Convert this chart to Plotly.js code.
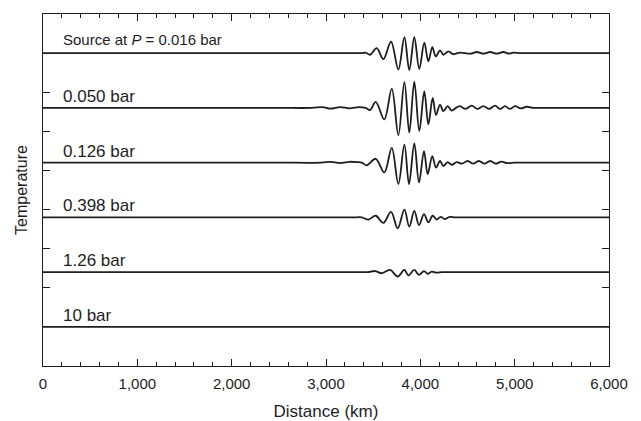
<!DOCTYPE html>
<html>
<head>
<meta charset="utf-8">
<script src="https://cdn.plot.ly/plotly-3.0.1.min.js"></script>
<style>html,body{margin:0;padding:0;background:#fff;}#chart{width:641px;height:421px;}</style>
</head>
<body>
<div id="chart"></div>
<script>
// ---- Data ----
// Curve labels (top to bottom)
const pressureLabels = ['Source at <i>P</i> = 0.016 bar', '0.050 bar', '0.126 bar', '0.398 bar', '1.26 bar', '10 bar'];
// Vertical offset of each trace's zero line (trace spacing = 1 unit)
const baselineOffsets = [5, 4, 3, 2, 1, 0];

// Distance (km) and relative temperature perturbation of each trace
const x016 = [0, 500, 1000, 1500, 2000, 2500, 3000, 3200, 3300, 3380, 3420, 3467, 3537, 3608, 3689, 3767, 3831, 3883, 3936, 3989, 4042, 4085, 4127, 4163, 4209, 4244, 4297, 4350, 4420, 4530, 4598, 4670, 4739, 4810, 4880, 4940, 4990, 5060, 5150, 5500, 6000];
const t016 = [0, 0, 0, 0, 0, 0, 0, 0, 0, 0, 0.01, -0.03, 0.09, -0.11, 0.21, -0.30, 0.29, -0.31, 0.29, -0.29, 0.19, -0.15, 0.11, -0.06, 0.05, -0.03, 0.03, -0.02, 0.01, -0.01, 0.02, -0.01, 0.02, -0.01, 0.02, -0.01, 0.01, 0, 0, 0, 0];

const x050 = [0, 500, 1000, 1500, 2000, 2500, 2850, 2960, 3050, 3150, 3250, 3350, 3420, 3467, 3527, 3618, 3697, 3767, 3831, 3883, 3936, 3989, 4042, 4085, 4131, 4166, 4209, 4244, 4290, 4332, 4386, 4420, 4480, 4545, 4605, 4668, 4730, 4792, 4845, 4898, 4950, 5004, 5065, 5128, 5200, 5300, 5600, 6000];
const t050 = [0, 0, 0, 0, 0, 0, 0, 0.015, -0.015, 0.015, -0.01, 0.015, 0.0, -0.04, 0.11, -0.21, 0.35, -0.50, 0.47, -0.45, 0.48, -0.42, 0.30, -0.30, 0.18, -0.13, 0.06, -0.06, 0.03, -0.05, 0.01, 0.03, -0.02, 0.04, -0.02, 0.03, -0.02, 0.04, -0.02, 0.03, -0.02, 0.03, -0.01, 0.02, 0, 0, 0, 0];

const x126 = [0, 500, 1000, 1500, 2000, 2500, 2950, 3050, 3150, 3250, 3330, 3380, 3431, 3527, 3618, 3697, 3767, 3831, 3880, 3936, 3986, 4039, 4078, 4127, 4166, 4209, 4244, 4290, 4332, 4386, 4440, 4500, 4560, 4620, 4680, 4740, 4800, 4860, 4920, 5000, 5100, 5500, 6000];
const t126 = [0, 0, 0, 0, 0, 0, 0, 0.015, -0.01, 0.015, 0.01, 0, -0.05, 0.07, -0.18, 0.27, -0.39, 0.33, -0.39, 0.35, -0.36, 0.21, -0.21, 0.12, -0.09, 0.03, -0.06, 0.01, -0.04, 0.01, -0.02, 0.03, -0.02, 0.03, -0.02, 0.03, -0.02, 0.02, -0.01, 0, 0, 0, 0];

const x398 = [0, 500, 1000, 1500, 2000, 2500, 3000, 3200, 3300, 3380, 3449, 3527, 3608, 3689, 3760, 3831, 3883, 3936, 3986, 4039, 4085, 4131, 4173, 4216, 4258, 4311, 4370, 4450, 4600, 5000, 5500, 6000];
const t398 = [0, 0, 0, 0, 0, 0, 0, 0, 0, 0, -0.04, 0.03, -0.10, 0.10, -0.20, 0.14, -0.17, 0.12, -0.14, 0.06, -0.09, 0.03, -0.04, 0.01, -0.03, 0.01, 0, 0, 0, 0, 0, 0];

const x126b = [0, 500, 1000, 1500, 2000, 2500, 3000, 3200, 3350, 3440, 3520, 3590, 3679, 3760, 3831, 3873, 3936, 3986, 4039, 4078, 4120, 4170, 4230, 4300, 4450, 4700, 5000, 5500, 6000];
const t126b = [0, 0, 0, 0, 0, 0, 0, 0, 0, 0, 0.02, -0.02, 0.04, -0.08, 0.04, -0.06, 0.04, -0.05, 0.02, -0.03, 0.01, -0.01, 0, 0, 0, 0, 0, 0, 0];

const x10 = [0, 6000];
const t10 = [0, 0];

const traceX = [x016, x050, x126, x398, x126b, x10];
const traceT = [t016, t050, t126, t398, t126b, t10];

// ---- Build the figure ----
const ink = '#1e1e1e';
const traces = traceX.map((xs, i) => ({
  type: 'scatter',
  mode: 'lines',
  x: xs,
  y: traceT[i].map(v => v + baselineOffsets[i]),
  line: {color: ink, width: 1.8, shape: 'spline', smoothing: 1},
  hoverinfo: 'skip',
  showlegend: false
}));

const labelFonts = [15, 17, 17, 17, 17, 17];
const annotations = pressureLabels.map((txt, i) => ({
  x: 190, y: baselineOffsets[i], xref: 'x', yref: 'y',
  xanchor: 'left', yanchor: 'bottom',
  text: txt, showarrow: false,
  font: {family: 'Liberation Sans, Arial, sans-serif', size: labelFonts[i], color: ink},
  yshift: i === 0 ? 3 : 0
}));

const step = 5 / 7;
const yTicks = [0, 1, 2, 3, 4, 5, 6, 7].map(k => k * step);

const layout = {
  width: 641, height: 421,
  margin: {l: 43, r: 32, t: 14, b: 55},
  paper_bgcolor: '#fff', plot_bgcolor: '#fff',
  font: {family: 'Liberation Sans, Arial, sans-serif', color: ink},
  xaxis: {
    range: [0, 6000], dtick: 1000, tick0: 0, tickformat: ',d',
    ticks: 'inside', ticklen: 7, tickwidth: 1, tickcolor: ink,
    minor: {dtick: 200, ticks: 'inside', ticklen: 4, tickcolor: ink, showgrid: false},
    showline: true, linecolor: ink, linewidth: 1.2, mirror: 'ticks',
    showgrid: false, zeroline: false,
    tickfont: {size: 15, color: ink}, ticklabelstandoff: 4,
    title: {text: 'Distance (km)', font: {size: 17, color: ink}, standoff: 13}
  },
  yaxis: {
    range: [-step, 5 + step], tickvals: yTicks, showticklabels: false,
    ticks: 'inside', ticklen: 7, tickwidth: 1, tickcolor: ink,
    showline: true, linecolor: ink, linewidth: 1.2, mirror: 'ticks',
    showgrid: false, zeroline: false,
    title: {text: 'Temperature', font: {size: 16, color: ink}, standoff: 10}
  },
  annotations: annotations
};

Plotly.newPlot('chart', traces, layout, {staticPlot: true, displayModeBar: false});
</script>
</body>
</html>
